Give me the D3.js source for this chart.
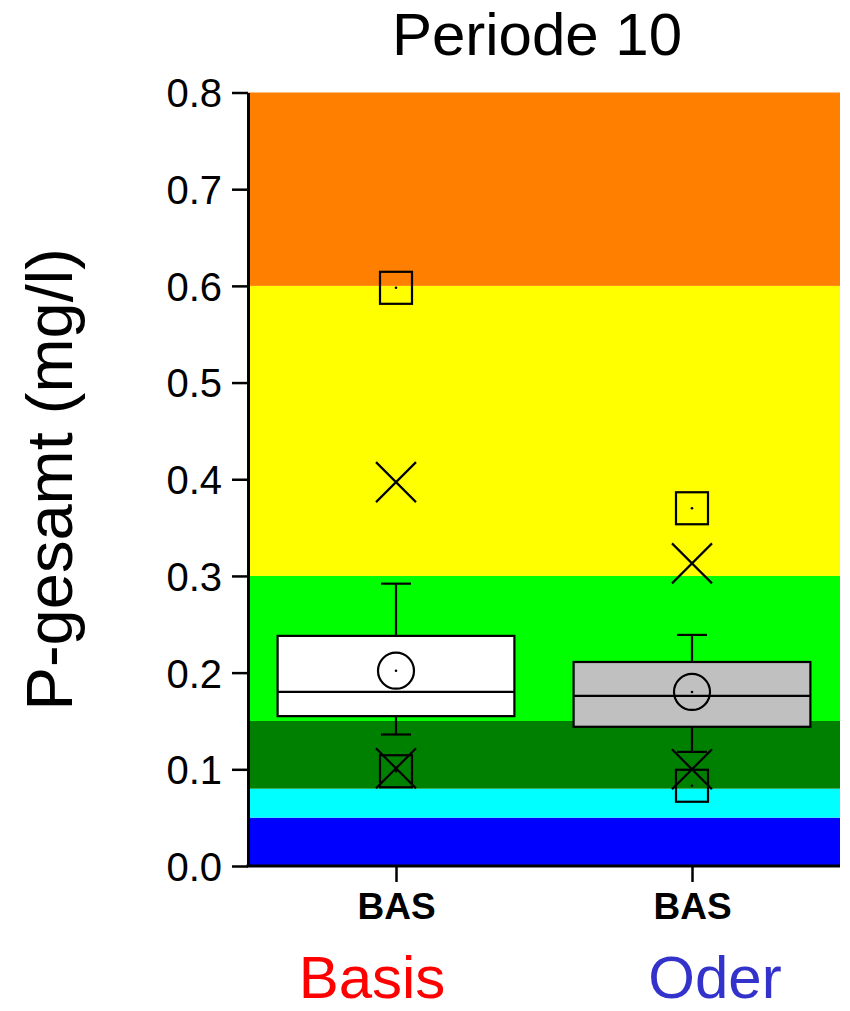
<!DOCTYPE html>
<html><head><meta charset="utf-8">
<script src="https://cdn.jsdelivr.net/npm/d3@7"></script>
<style>body{margin:0;background:#fff}svg{display:block;font-family:"Liberation Sans",Arial,sans-serif}</style>
</head><body>
<svg id="c" width="850" height="1011"></svg>
<script>
const categories = ["Basis", "Oder"];
const tickLabels = ["BAS", "BAS"];
const catColors = ["#FF0000", "#3333CC"];
const boxFills = ["#FFFFFF", "#C0C0C0"];
const q1 = [0.155, 0.144];
const median = [0.180, 0.176];
const q3 = [0.238, 0.211];
const whiskerLow = [0.136, 0.118];
const whiskerHigh = [0.292, 0.239];
const mean = [0.202, 0.180];
const p1 = [0.101, 0.100];
const p99 = [0.397, 0.313];
const minVal = [0.098, 0.083];
const maxVal = [0.598, 0.370];
const bandBreaks = [0, 0.05, 0.08, 0.15, 0.3, 0.6, 0.8];
const bandColors = ["#0000FF", "#00FFFF", "#008000", "#00FF00", "#FFFF00", "#FF8000"];
const yTicks = [0, 0.1, 0.2, 0.3, 0.4, 0.5, 0.6, 0.7, 0.8];

const svg = d3.select("#c");
const L = 248, R = 840, T = 92.5, B = 866;
const x = d3.scalePoint().domain(categories).range([L, R]).padding(0.5);
const y = d3.scaleLinear().domain([0, 0.8]).range([B, T]);
const bw = x.step() * 0.8;
const capW = 30;

// bands
svg.append("g").selectAll("rect").data(bandColors).join("rect")
  .attr("x", L).attr("width", R - L)
  .attr("y", (d, i) => y(bandBreaks[i + 1]))
  .attr("height", (d, i) => y(bandBreaks[i]) - y(bandBreaks[i + 1]))
  .attr("fill", d => d);

const g = svg.append("g").attr("stroke", "#000").attr("stroke-width", 2.2).attr("fill", "none");
categories.forEach((c, i) => {
  const cx = x(c);
  // whiskers
  g.append("line").attr("x1", cx).attr("x2", cx).attr("y1", y(q3[i])).attr("y2", y(whiskerHigh[i]));
  g.append("line").attr("x1", cx).attr("x2", cx).attr("y1", y(q1[i])).attr("y2", y(whiskerLow[i]));
  g.append("line").attr("x1", cx - capW / 2).attr("x2", cx + capW / 2).attr("y1", y(whiskerHigh[i])).attr("y2", y(whiskerHigh[i]));
  g.append("line").attr("x1", cx - capW / 2).attr("x2", cx + capW / 2).attr("y1", y(whiskerLow[i])).attr("y2", y(whiskerLow[i]));
  // box
  g.append("rect").attr("x", cx - bw / 2).attr("width", bw)
    .attr("y", y(q3[i])).attr("height", y(q1[i]) - y(q3[i])).attr("fill", boxFills[i]);
  g.append("line").attr("x1", cx - bw / 2).attr("x2", cx + bw / 2).attr("y1", y(median[i])).attr("y2", y(median[i]));
  // mean circle
  g.append("circle").attr("cx", cx).attr("cy", y(mean[i])).attr("r", 18);
  g.append("circle").attr("cx", cx).attr("cy", y(mean[i])).attr("r", 1.3).attr("fill", "#000").attr("stroke", "none");
  // min/max squares
  [minVal[i], maxVal[i]].forEach(v => {
    g.append("rect").attr("x", cx - 16).attr("y", y(v) - 16).attr("width", 32).attr("height", 32);
    g.append("circle").attr("cx", cx).attr("cy", y(v)).attr("r", 1.3).attr("fill", "#000").attr("stroke", "none");
  });
  // 1%/99% crosses
  [p1[i], p99[i]].forEach(v => {
    const yy = y(v);
    g.append("line").attr("x1", cx - 20).attr("x2", cx + 20).attr("y1", yy - 20).attr("y2", yy + 20);
    g.append("line").attr("x1", cx - 20).attr("x2", cx + 20).attr("y1", yy + 20).attr("y2", yy - 20);
  });
});

// y axis
const ya = svg.append("g").attr("transform", `translate(${L},0)`)
  .call(d3.axisLeft(y).tickValues(yTicks).tickFormat(d3.format(".1f")).tickSize(16).tickPadding(10).tickSizeOuter(0));
ya.select(".domain").attr("stroke-width", 3);
ya.selectAll(".tick line").attr("stroke-width", 2.5);
ya.selectAll(".tick text").attr("font-size", 40).attr("font-family", "Liberation Sans, Arial, sans-serif").attr("fill", "#000").attr("dy", "0.36em");

// x axis
const xa = svg.append("g").attr("transform", `translate(0,${B})`)
  .call(d3.axisBottom(x).tickSize(16).tickPadding(10).tickSizeOuter(0).tickFormat((d, i) => tickLabels[i]));
xa.select(".domain").attr("stroke-width", 3).attr("d", `M${L - 1.5},0H${R}`);
xa.selectAll(".tick line").attr("stroke-width", 2.5);
xa.selectAll(".tick text").attr("font-size", 37).attr("font-weight", "bold").attr("font-family", "Liberation Sans, Arial, sans-serif").attr("fill", "#000").attr("dy", "0.72em");

// category labels
const catOffsets = [-24, 23];
svg.append("g").selectAll("text").data(categories).join("text")
  .attr("x", (d, i) => x(d) + catOffsets[i]).attr("y", 998)
  .attr("text-anchor", "middle").attr("font-size", 60)
  .attr("fill", (d, i) => catColors[i]).text(d => d);

// title
svg.append("text").attr("x", 537).attr("y", 55).attr("text-anchor", "middle")
  .attr("font-size", 60).attr("fill", "#000").text("Periode 10");

// y label
svg.append("text").attr("transform", `translate(72,${(T + B) / 2}) rotate(-90)`)
  .attr("text-anchor", "middle").attr("font-size", 65).attr("fill", "#000").text("P-gesamt (mg/l)");
</script>
</body></html>
